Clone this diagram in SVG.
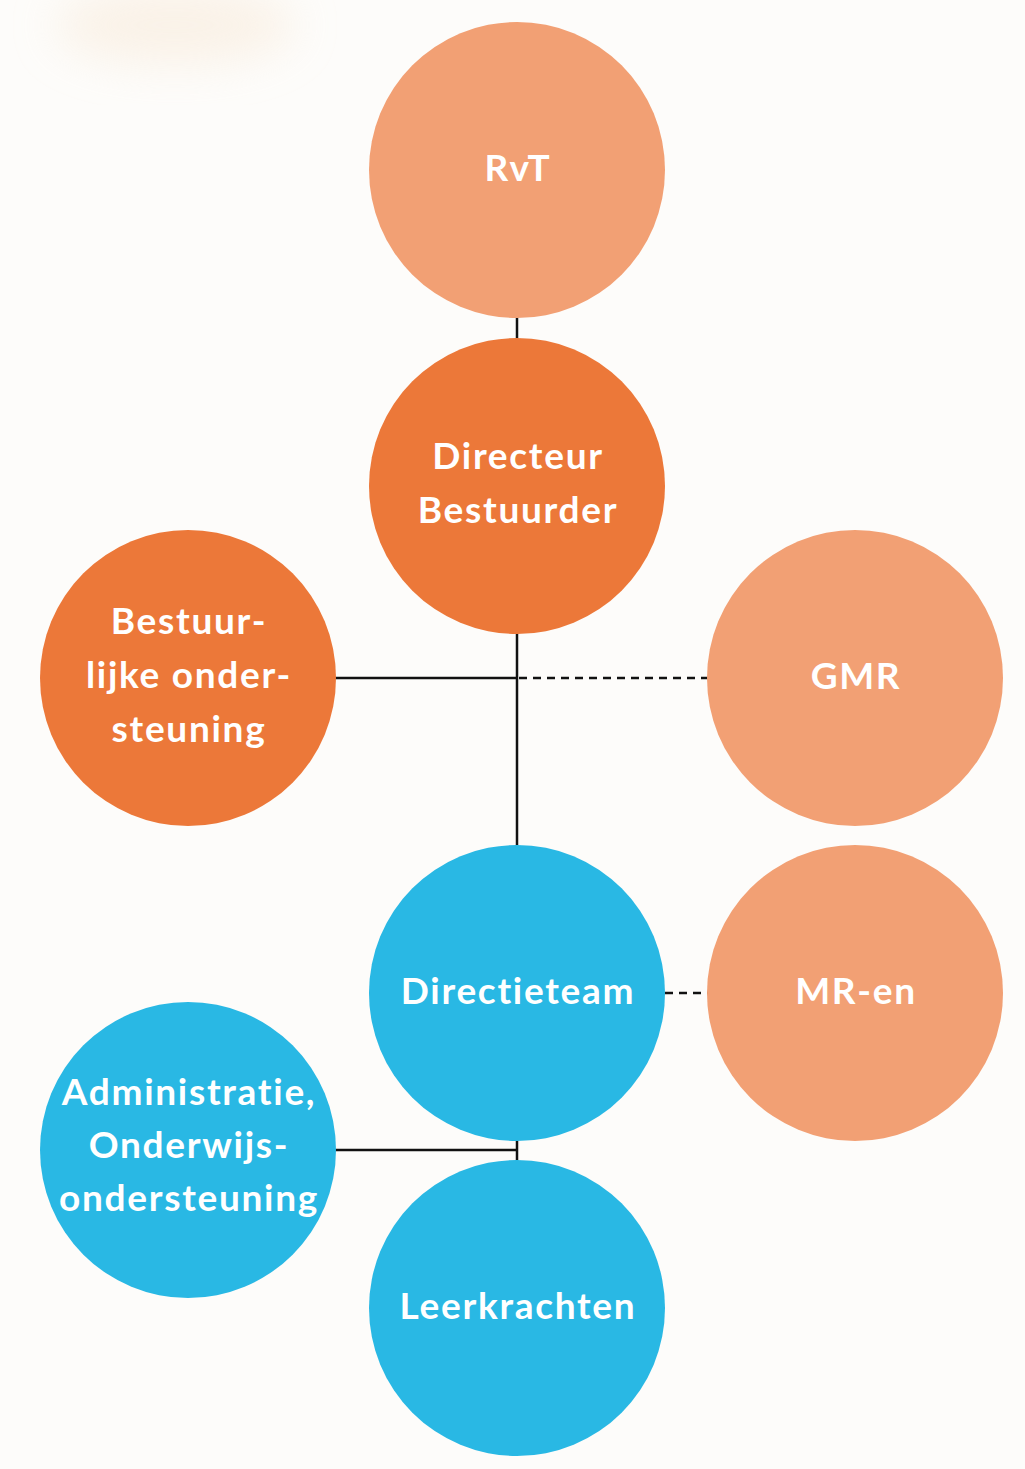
<svg xmlns="http://www.w3.org/2000/svg" width="1025" height="1469" viewBox="0 0 1025 1469">
<defs>
<style>
.lo{fill:#f2a074}
.or{fill:#ec7839}
.bl{fill:#29b8e4}
text{font-family:Lato,"Noto Sans",sans-serif;font-weight:bold;font-size:37px;letter-spacing:1.7px;font-variant-ligatures:none;fill:#ffffff;text-anchor:middle}
.ln{stroke:#111;stroke-width:2.5;fill:none}
.dash{stroke:#111;stroke-width:2.5;fill:none;stroke-dasharray:8 6}
</style>
<filter id="blur" x="-50%" y="-50%" width="200%" height="200%"><feGaussianBlur stdDeviation="22"/></filter>
</defs>
<rect width="1025" height="1469" fill="#fdfcfa"/>
<ellipse cx="175" cy="25" rx="120" ry="40" fill="#f8ead9" opacity="0.55" filter="url(#blur)"/>
<g id="connectors">
<line class="ln" x1="517" y1="316" x2="517" y2="340"/>
<line class="ln" x1="517" y1="632" x2="517" y2="847"/>
<line class="ln" x1="334" y1="678" x2="517" y2="678"/>
<line class="dash" x1="519" y1="678" x2="708" y2="678"/>
<line class="dash" x1="665" y1="993" x2="708" y2="993"/>
<line class="ln" x1="334" y1="1150" x2="517" y2="1150"/>
<line class="ln" x1="517" y1="1139" x2="517" y2="1162"/>
</g>
<g id="rvt"><circle class="lo" cx="517" cy="170" r="148"/><text x="518" y="181">RvT</text></g>
<g id="directeur"><circle class="or" cx="517" cy="486" r="148"/><text x="518" y="469">Directeur</text><text x="518" y="523">Bestuurder</text></g>
<g id="bestuurlijk"><circle class="or" cx="188" cy="678" r="148"/><text x="189" y="634">Bestuur-</text><text x="189" y="688">lijke onder-</text><text x="189" y="742">steuning</text></g>
<g id="gmr"><circle class="lo" cx="855" cy="678" r="148"/><text x="856" y="689">GMR</text></g>
<g id="directieteam"><circle class="bl" cx="517" cy="993" r="148"/><text x="518" y="1004">Directieteam</text></g>
<g id="mr"><circle class="lo" cx="855" cy="993" r="148"/><text x="856" y="1004">MR-en</text></g>
<g id="admin"><circle class="bl" cx="188" cy="1150" r="148"/><text x="189" y="1105">Administratie,</text><text x="189" y="1158">Onderwijs-</text><text x="189" y="1211">ondersteuning</text></g>
<g id="leerkrachten"><circle class="bl" cx="517" cy="1308" r="148"/><text x="518" y="1319">Leerkrachten</text></g>
</svg>
